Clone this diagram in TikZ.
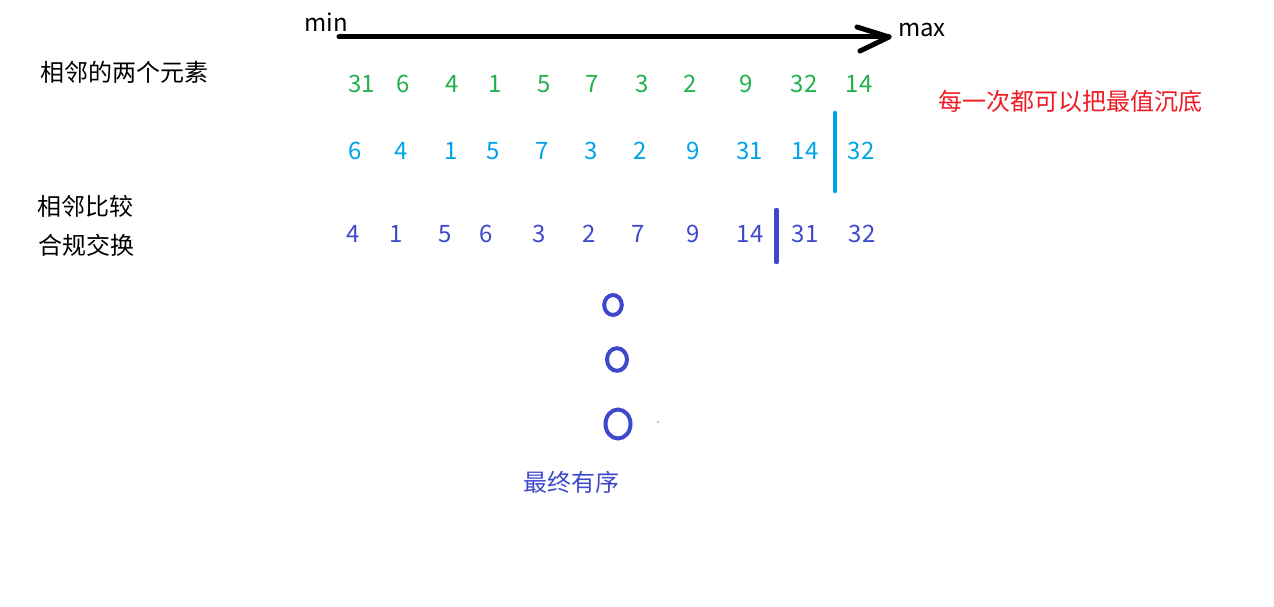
\documentclass[tikz,border=0pt]{standalone}
\usepackage{fontspec}
\setmainfont{Noto Sans CJK SC}
\definecolor{pgreen}{RGB}{34,177,76}
\definecolor{pcyan}{RGB}{0,162,232}
\definecolor{pblue}{RGB}{63,72,204}
\definecolor{pred}{RGB}{237,28,36}
\tikzset{
  txt/.style={inner sep=0pt, font=\fontsize{24}{28}\selectfont},
  gnum/.style={txt, text=pgreen},
  cnum/.style={txt, text=pcyan},
  bnum/.style={txt, text=pblue},
  bar/.style={line width=4.5pt, line cap=round},
  ring/.style={draw=pblue, line width=4pt},
}
\begin{document}
\begin{tikzpicture}[x=1pt,y=-1pt]
\useasboundingbox (0,0) rectangle (1274,607);
% axis
\node[txt,anchor=center] (tmin) at (326,22) {min};
\node[txt,anchor=center] (tmax) at (922,30) {max};
\coordinate (amin) at (339,37);
\coordinate (amax) at (889,37);
\draw[line width=5pt, line cap=round, line join=round] (amin) -- (amax);
\draw[line width=5pt, line cap=round, line join=round] ([shift={(-32,-10)}]amax) -- (amax) -- ([shift={(-29,14)}]amax);
% left labels
\node[txt] (l1) at (124,72.5) {相邻的两个元素};
\node[txt] (l2) at (85,206) {相邻比较};
\node[txt] (l3) at (86,245) {合规交换};
\node[txt, text=pred] (r1) at (1070.5,101.5) {每一次都可以把最值沉底};
% row 1
\foreach \v/\x [count=\i] in {31/361.5,6/403,4/452.6,1/495,5/543.7,7/592,3/641.7,2/690,9/746,32/804,14/859}
  \node[gnum] (a\i) at (\x,84) {\v};
% row 2
\foreach \v/\x [count=\i] in {6/355,4/401.4,1/451.4,5/493,7/542.5,3/591.4,2/640,9/693,31/749.6,14/805,32/861}
  \node[cnum] (b\i) at (\x,151) {\v};
% row 3
\foreach \v/\x [count=\i] in {4/353,1/396,5/445,6/486,3/539.6,2/589,7/638,9/693.6,14/750,31/805,32/862}
  \node[bnum] (c\i) at (\x,234) {\v};
% bars
\coordinate (bt) at (835,113);
\coordinate (bb) at (835,191);
\draw[bar, pcyan] (bt) -- (bb);
\coordinate (ct) at (776.5,210);
\coordinate (cb) at (776.5,262);
\draw[bar, pblue] (ct) -- (cb);
% circles
\draw[ring] (613,305) ellipse [x radius=8.8, y radius=10];
\draw[ring] (617,359.5) ellipse [x radius=10, y radius=11.3];
\draw[ring] (618,424) ellipse [x radius=12.5, y radius=14.5];
\fill[pgreen] (658,422) circle [radius=0.9];
\node[txt, text=pblue] (fin) at (571,482) {最终有序};
\end{tikzpicture}
\end{document}
